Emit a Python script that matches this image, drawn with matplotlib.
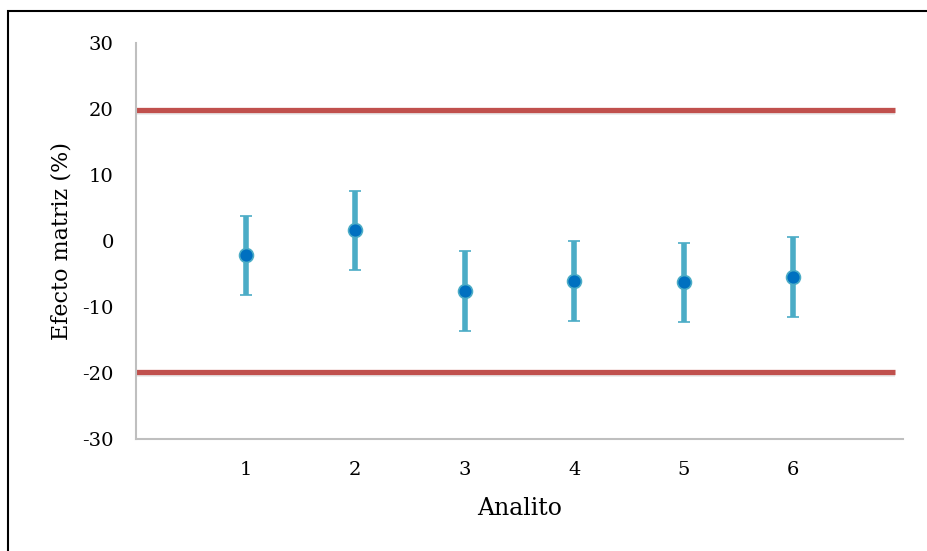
import numpy as np
import matplotlib
matplotlib.use("Agg")
import matplotlib.pyplot as plt
from matplotlib.patches import Rectangle

# data
analitos = [1, 2, 3, 4, 5, 6]
efecto = [-2.2, 1.6, -7.6, -6.1, -6.3, -5.5]
error = [6.0, 6.0, 6.0, 6.0, 6.0, 6.0]
limite_sup = 19.8
limite_inf = -19.8
yticks = [-30, -20, -10, 0, 10, 20, 30]

plt.rcParams["font.family"] = ["DejaVu Serif"]
plt.rcParams["axes.unicode_minus"] = False

fig = plt.figure(figsize=(9.27, 5.51), dpi=100)
ax = fig.add_axes([136 / 927, 1 - 439 / 551, (903 - 136) / 927, (439 - 42.5) / 551])

# tolerance limits with a soft shadow
for lim in (limite_sup, limite_inf):
    ax.plot([0, 6.93], [lim - 0.35, lim - 0.35], color="#d9d9d9", lw=4, alpha=0.6,
            solid_capstyle="butt", zorder=1)
    ax.plot([0, 6.93], [lim, lim], color="#C0504D", lw=3.8,
            solid_capstyle="butt", zorder=2)

ax.errorbar(analitos, efecto, yerr=error, fmt="o", color="#0070C0",
            ecolor="#4BACC6", elinewidth=4, capsize=4.6, capthick=4.2,
            markersize=10, markeredgecolor="#4BACC6", markeredgewidth=1.2, zorder=3)

ax.set_xlim(0, 7)
ax.set_ylim(-30, 30)
ax.set_xticks(analitos)
ax.set_yticks(yticks)
ax.tick_params(length=0, labelsize=14)
ax.tick_params(axis="y", pad=16)
ax.tick_params(axis="x", pad=16)

for side in ("top", "right"):
    ax.spines[side].set_visible(False)
for side in ("left", "bottom"):
    ax.spines[side].set_color("#bfbfbf")
    ax.spines[side].set_linewidth(1.5)

ax.set_xlabel("Analito", fontsize=17, labelpad=13)
ax.set_ylabel("Efecto matriz (%)", fontsize=16, labelpad=7)

# black frame around the chart, running off the right and bottom edges
fig.patches.append(Rectangle((8 / 927, -0.1), 1.1, 1 - 11 / 551 + 0.1,
                             transform=fig.transFigure, fill=False,
                             edgecolor="black", linewidth=1.5))

fig.savefig("out.png", dpi=100)
